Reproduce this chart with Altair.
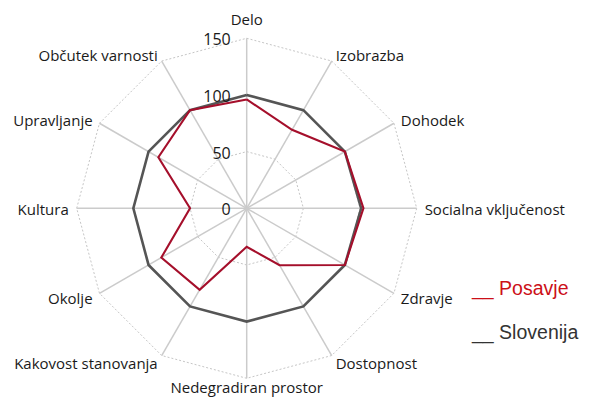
import altair as alt
import pandas as pd

categories = ["Delo", "Izobrazba", "Dohodek", "Socialna vključenost", "Zdravje",
              "Dostopnost", "Nedegradiran prostor", "Kakovost stanovanja", "Okolje",
              "Kultura", "Upravljanje", "Občutek varnosti"]
posavje = [96, 80, 100, 103, 100, 58, 34, 83, 87, 50, 90, 100]
slovenija = [100, 100, 100, 101, 100, 100, 100, 100, 100, 100, 100, 100]
ring_values = [50, 100, 150]
tick_values = [0, 50, 100, 150]
tick_labels = ["0", "50", "100", "150"]
series_names = ["Posavje", "Slovenija"]
series_colors = ["#a50f2b", "#555555"]
legend_colors = ["#cc1018", "#333333"]

n = len(categories)

# closed polygons
def closed(values, name):
    rows = []
    for k in range(n + 1):
        i = k % n
        rows.append({"series": name, "idx": i, "ord": k, "value": values[i]})
    return rows

series_df = pd.DataFrame(closed(posavje, "Posavje") + closed(slovenija, "Slovenija"))
rings_df = pd.DataFrame([{"ring": r, "idx": k % n, "ord": k, "value": r}
                         for r in ring_values for k in range(n + 1)])
spokes_df = pd.DataFrame({"cat": categories, "idx": list(range(n)), "value": [150] * n})
ticks_df = pd.DataFrame({"value": tick_values, "label": tick_labels})

W, H = 576, 389
xs = alt.Scale(domain=[-210.6, 297.6])
ys = alt.Scale(domain=[-166.5, 176.7])

ang = "PI/2 - datum.idx*PI/6"
def polar(ch):
    return ch.transform_calculate(
        a=ang
    ).transform_calculate(
        px="datum.value*cos(datum.a)", py="datum.value*sin(datum.a)"
    )

X = alt.X("px:Q", scale=xs, axis=None)
Y = alt.Y("py:Q", scale=ys, axis=None)

rings = polar(alt.Chart(rings_df)).mark_line(
    color="#c6c6c6", strokeWidth=1, strokeDash=[2, 2]
).encode(x=X, y=Y, detail="ring:N", order="ord:Q")

spokes = polar(alt.Chart(spokes_df)).transform_calculate(zero="0").mark_rule(
    color="#cbcbcb", strokeWidth=1.5
).encode(
    x=alt.X("zero:Q", scale=xs, axis=None), y=alt.Y("zero:Q", scale=ys, axis=None),
    x2="px:Q", y2="py:Q"
)

slo = polar(alt.Chart(series_df).transform_filter("datum.series == 'Slovenija'")).mark_line(
    color=series_colors[1], strokeWidth=2.6
).encode(x=X, y=Y, order="ord:Q")

pos = polar(alt.Chart(series_df).transform_filter("datum.series == 'Posavje'")).mark_line(
    color=series_colors[0], strokeWidth=2.1
).encode(x=X, y=Y, order="ord:Q")

ticks = alt.Chart(ticks_df).transform_calculate(zero="0").mark_text(
    align="right", baseline="middle", dx=-16, dy=2, font="Open Sans", fontSize=16, color="#1a1a1a"
).encode(
    x=alt.X("zero:Q", scale=xs, axis=None),
    y=alt.Y("value:Q", scale=ys, axis=None),
    text="label:N"
)

lab_base = polar(alt.Chart(spokes_df).transform_calculate(value="157"))

def lab(filt, **kw):
    return lab_base.transform_filter(filt).mark_text(
        baseline="middle", font="Open Sans", fontSize=15, color="#1a1a1a", **kw
    ).encode(x=X, y=Y, text="cat:N")

lab_left = lab("cos(datum.a) > 0.1", align="left", dy=2)
lab_right = lab("cos(datum.a) < -0.1", align="right", dy=2)
lab_top = lab("sin(datum.a) > 0.9", align="center", dy=-10)
lab_bot = lab("sin(datum.a) < -0.9", align="center", dy=2)

leg_df = pd.DataFrame({"series": series_names, "text": ["__ " + s for s in series_names]})

def leg_item(i, ypix):
    return alt.Chart(leg_df).transform_filter(
        f"datum.series == '{series_names[i]}'"
    ).mark_text(
        align="left", baseline="alphabetic", font="Liberation Sans", fontSize=19.5,
        color=legend_colors[i]
    ).encode(x=alt.value(464), y=alt.value(ypix), text="text:N")

leg1 = leg_item(0, 287)
leg2 = leg_item(1, 331)

chart = alt.layer(
    rings, spokes, slo, pos, ticks, lab_left, lab_right, lab_top, lab_bot, leg1, leg2
).properties(width=W, height=H, padding=0, autosize="none").configure_view(stroke=None)

chart.save("out.html", embed_options={"renderer": "svg", "actions": False})
